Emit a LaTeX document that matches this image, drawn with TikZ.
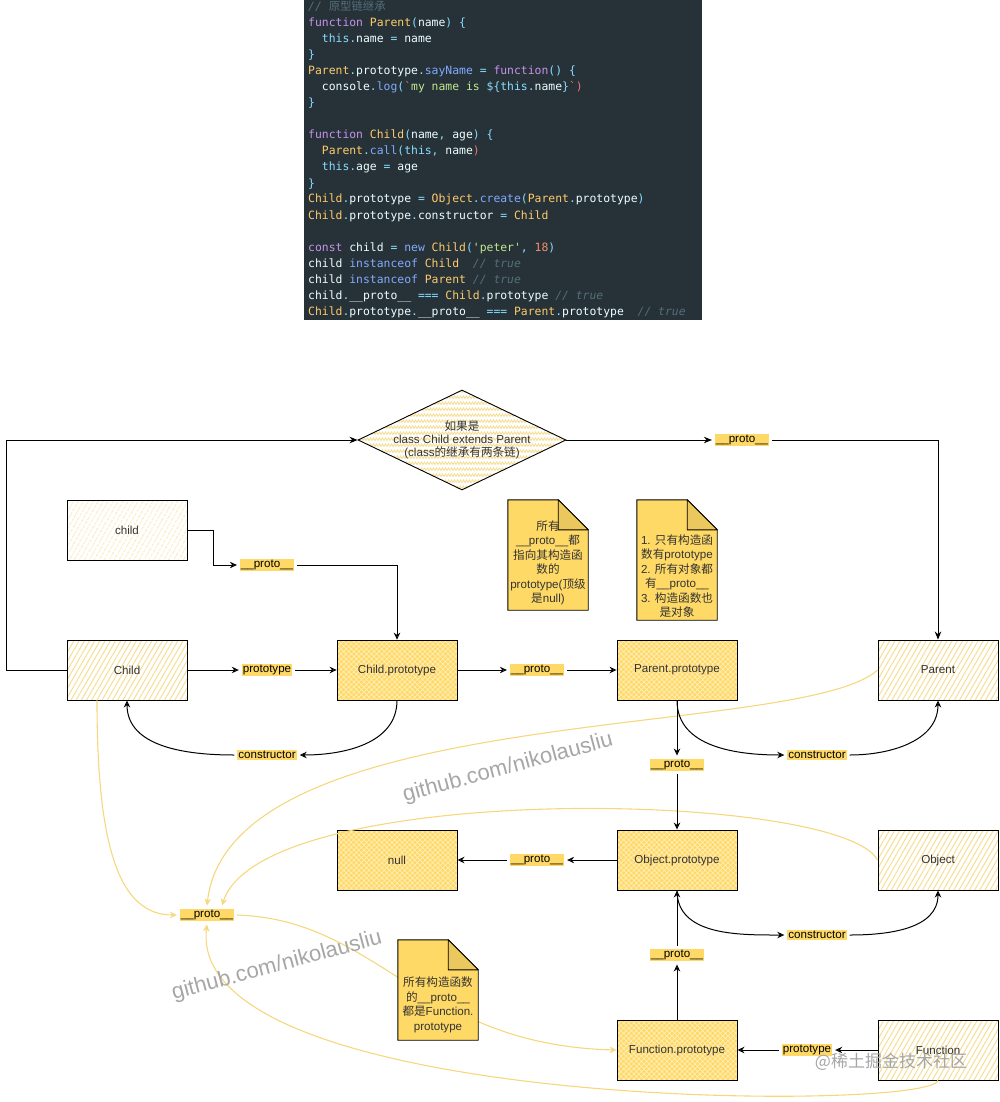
\documentclass[tikz,border=0pt]{standalone}
\usepackage{fontspec}
\setmainfont{Liberation Sans}
\setmonofont{DejaVu Sans Mono}
\newfontfamily\cjk{Noto Sans CJK SC}
\usetikzlibrary{arrows.meta,patterns.meta,shapes.geometric,calc}

\definecolor{codebg}{HTML}{263238}
\definecolor{ctext}{HTML}{EEFFFF}
\definecolor{ckw}{HTML}{C792EA}
\definecolor{cty}{HTML}{FFCB6B}
\definecolor{cfn}{HTML}{82AAFF}
\definecolor{cpu}{HTML}{89DDFF}
\definecolor{cst}{HTML}{C3E88D}
\definecolor{cnu}{HTML}{F78C6C}
\definecolor{crd}{HTML}{F07178}
\definecolor{ccm}{HTML}{546E7A}
\definecolor{labY}{HTML}{FFD966}
\definecolor{noteY}{HTML}{FFD966}
\definecolor{foldY}{HTML}{EBC85E}
\definecolor{hatchY}{HTML}{F6DC8C}
\definecolor{dotY}{HTML}{F3D370}
\definecolor{yline}{HTML}{F6D77E}
\definecolor{boxtext}{HTML}{333333}
\definecolor{wmgray}{HTML}{A6A6A6}

\newcommand\zh[1]{{\cjk #1}}
\newcommand\cKw[1]{\textcolor{ckw}{#1}}
\newcommand\cTy[1]{\textcolor{cty}{#1}}
\newcommand\cFn[1]{\textcolor{cfn}{#1}}
\newcommand\cPu[1]{\textcolor{cpu}{#1}}
\newcommand\cTh[1]{\textcolor{cpu}{#1}}
\newcommand\cSt[1]{\textcolor{cst}{#1}}
\newcommand\cNu[1]{\textcolor{cnu}{#1}}
\newcommand\cRd[1]{\textcolor{crd}{#1}}
\newcommand\cCm[1]{\textcolor{ccm}{\itshape #1}}
\newcommand\lblfont{\fontsize{11.6pt}{14.5pt}\selectfont}
\newcommand\codefont{\ttfamily\fontsize{11.4pt}{16pt}\selectfont}

\tikzdeclarepattern{
  name=zigzag,
  type=uncolored,
  bottom left={(-0.5pt,-0.5pt)},
  top right={(6.5pt,6.5pt)},
  tile size={(6pt,6pt)},
  code={\draw[line width=0.8pt] (0pt,1.5pt) -- (1.5pt,4pt) -- (3pt,1.5pt) -- (4.5pt,4pt) -- (6pt,1.5pt);}
}

\newcommand\notefold[1]{%
  \draw[notebody] (#1.south west) -- (#1.north west) -- ([xshift=-30pt]#1.north east) -- ([yshift=-30pt]#1.north east) -- (#1.south east) -- cycle;
  \draw[notefoldst] ([xshift=-30pt]#1.north east) -- ([xshift=-30pt,yshift=-30pt]#1.north east) -- ([yshift=-30pt]#1.north east) -- cycle;}

\tikzset{
  box/.style={draw=black, line width=0.9pt, minimum width=120pt, minimum height=60pt, inner sep=0pt, font=\lblfont, text=boxtext},
  hatchbox/.style={box, preaction={fill=white}, pattern={Lines[angle=60,distance=4.5pt,line width=0.9pt]}, pattern color=hatchY},
  xbox/.style={box, preaction={fill=labY}, pattern={Hatch[angle=45,distance=3.6pt,line width=0.7pt]}, pattern color=white!55!labY},
  dotbox/.style={box, preaction={fill=white}, pattern={Lines[angle=60,distance=4pt,line width=1pt]}, pattern color=white!40!dotY},
  diabox/.style={draw=black, line width=0.9pt, shape=diamond, minimum width=208pt, minimum height=100pt, inner sep=0pt, preaction={fill=white}, pattern=zigzag, pattern color=hatchY},
  lab/.style={fill=labY, inner xsep=1pt, inner ysep=1.5pt, outer sep=3pt, font=\lblfont, text=black},
  notebody/.style={draw=black, line width=0.9pt, fill=noteY},
  notefoldst/.style={draw=black, line width=0.9pt, fill=foldY, line join=round},
  noteshape/.style={minimum width=80pt, inner sep=0pt},
  notetext/.style={align=center, font=\lblfont, text=boxtext, inner sep=0pt},
  conn/.style={draw=black, line width=1pt, -{Stealth[open,length=7pt,width=6.5pt]}},
  connF/.style={draw=black, line width=1pt, -{Stealth[length=8pt,width=6.5pt]}},
  yconn/.style={draw=yline, line width=1.1pt, -{Stealth[open,length=7pt,width=6.5pt]}},
  codeline/.style={anchor=base west, inner sep=0pt, font=\codefont, text=ctext},
  wm/.style={font=\fontsize{22pt}{24pt}\selectfont, text=wmgray, inner sep=0pt},
}

\begin{document}
\begin{tikzpicture}[x=1pt,y=-1pt]
\useasboundingbox (0,0) rectangle (1000,1102);

% ---------- code block ----------
\node[fill=codebg, minimum width=398pt, minimum height=320pt, anchor=north west, inner sep=0pt] (code) at (304,0) {};
\node[codeline] (c0) at (308,11) {\cCm{// \zh{原型链继承}}};
\node[codeline] (c1) at (308,27) {\cKw{function} \cTy{Parent}\cPu{(}name\cPu{)} \cPu{\{}};
\node[codeline] (c2) at (308,43) {\phantom{xx}\cTh{this}\cPu{.}name \cPu{=} name};
\node[codeline] (c3) at (308,59) {\cPu{\}}};
\node[codeline] (c4) at (308,75) {\cTy{Parent}\cPu{.}prototype\cPu{.}\cFn{sayName} \cPu{=} \cKw{function}\cPu{()} \cPu{\{}};
\node[codeline] (c5) at (308,91) {\phantom{xx}console\cPu{.}\cFn{log}\cPu{(}\cRd{`}\cSt{my name is }\cPu{\$\{}\cTh{this}\cPu{.}name\cPu{\}}\cRd{`}\cRd{)}};
\node[codeline] (c6) at (308,107) {\cPu{\}}};
\node[codeline] (c8) at (308,139) {\cKw{function} \cTy{Child}\cPu{(}name\cPu{,} age\cPu{)} \cPu{\{}};
\node[codeline] (c9) at (308,155) {\phantom{xx}\cTy{Parent}\cPu{.}\cFn{call}\cPu{(}\cTh{this}\cPu{,} name\cRd{)}};
\node[codeline] (c10) at (308,171) {\phantom{xx}\cTh{this}\cPu{.}age \cPu{=} age};
\node[codeline] (c11) at (308,187) {\cPu{\}}};
\node[codeline] (c12) at (308,203) {\cTy{Child}\cPu{.}prototype \cPu{=} \cTy{Object}\cPu{.}\cFn{create}\cPu{(}\cTy{Parent}\cPu{.}prototype\cPu{)}};
\node[codeline] (c13) at (308,219) {\cTy{Child}\cPu{.}prototype\cPu{.}constructor \cPu{=} \cTy{Child}};
\node[codeline] (c15) at (308,251) {\cKw{const} child \cPu{=} \cFn{new} \cTy{Child}\cPu{(}\cSt{'peter'}\cPu{,} \cNu{18}\cPu{)}};
\node[codeline] (c16) at (308,267) {child \cFn{instanceof} \cTy{Child}\phantom{x} \cCm{// true}};
\node[codeline] (c17) at (308,283) {child \cFn{instanceof} \cTy{Parent} \cCm{// true}};
\node[codeline] (c18) at (308,299) {child\cPu{.}\_\_proto\_\_ \cPu{===} \cTy{Child}\cPu{.}prototype \cCm{// true}};
\node[codeline] (c19) at (308,315) {\cTy{Child}\cPu{.}prototype\cPu{.}\_\_proto\_\_ \cPu{===} \cTy{Parent}\cPu{.}prototype\phantom{x} \cCm{// true}};

% ---------- boxes ----------
\node[dotbox] (child) at (127,530) {child};
\node[hatchbox] (Child) at (127,670) {Child};
\node[xbox] (cproto) at (397,670) {Child.prototype};
\node[xbox] (pproto) at (677,670) {Parent.prototype};
\node[hatchbox] (Parent) at (938,670) {Parent};
\node[xbox] (null) at (397,860) {null};
\node[xbox] (oproto) at (677,860) {Object.prototype};
\node[hatchbox] (Object) at (938,860) {Object};
\node[xbox] (fproto) at (677,1050) {Function.prototype};
\node[hatchbox] (Function) at (938,1050) {Function};

% diamond
\node[diabox] (dia) at (462,440) {};
\node[align=center, font=\lblfont, text=boxtext, inner sep=0pt] (diatext) at (462,440)
  {\zh{如果是}\\[-1.5pt] class Child extends Parent\\[-1.5pt] (class\zh{的继承有两条链})};

% ---------- labels ----------
\node[lab] (l1) at (742,440) {\_\_proto\_\_};
\node[lab] (l2) at (267,565) {\_\_proto\_\_};
\node[lab] (l3) at (267,670) {prototype};
\node[lab] (l4) at (537,670) {\_\_proto\_\_};
\node[lab] (l5) at (267,755) {constructor};
\node[lab] (l7) at (677,765) {\_\_proto\_\_};
\node[lab] (l8) at (817,755) {constructor};
\node[lab] (l9) at (537,860) {\_\_proto\_\_};
\node[lab] (l10) at (817,935) {constructor};
\node[lab] (l11) at (207,915) {\_\_proto\_\_};
\node[lab] (l12) at (677,955) {\_\_proto\_\_};
\node[lab] (l13) at (807,1050) {prototype};

% ---------- yellow connectors ----------
\draw[yconn] ([xshift=-30pt]Child.south) .. controls (97,850) and (120,915) .. (l11.west);
\draw[yconn] (Parent.west) .. controls (800,740) and (230,700) .. (l11.north);
\draw[yconn] (Object.west) .. controls (840,790) and (262,780) .. ([xshift=15pt]l11.north);
\draw[yconn] (Function.south) .. controls (930,1112) and (185,1112) .. (l11.south);
\draw[yconn] (l11.east) .. controls (380,920) and (420,1045) .. (fproto.west);

% ---------- black connectors ----------
\draw[connF] (Child.west) -- ++(-60,0) |- (dia.west);
\draw[connF] (dia.east) -- (l1.west);
\draw[connF] (l1.east) -| (Parent.north);
\draw[conn] (child.east) -- ++(26,0) |- (l2.west);
\draw[conn] (l2.east) -| (cproto.north);
\draw[conn] (Child.east) -- (l3.west);
\draw[conn] (l3.east) -- (cproto.west);
\draw[conn] (cproto.east) -- (l4.west);
\draw[conn] (l4.east) -- (pproto.west);
\draw[conn] (cproto.south) to[out=-90,in=0] (l5.east);
\draw[conn] (l5.west) to[out=180,in=-90] (Child.south);
\draw[conn] (pproto.south) -- (l7.north);
\draw[conn] (l7.south) -- (oproto.north);
\draw[conn] (pproto.south) to[out=-90,in=180] (l8.west);
\draw[conn] (l8.east) to[out=0,in=-90] (Parent.south);
\draw[conn] (oproto.west) -- (l9.east);
\draw[conn] (l9.west) -- (null.east);
\draw[conn] (oproto.south) to[out=-90,in=180] (l10.west);
\draw[conn] (l10.east) to[out=0,in=-90] (Object.south);
\draw[conn] (fproto.north) -- (l12.south);
\draw[conn] (l12.north) -- (oproto.south);
\draw[conn] (Function.west) -- (l13.east);
\draw[conn] (l13.west) -- (fproto.east);

% ---------- notes ----------
\node[noteshape, minimum height=110pt] (n1) at (548,555) {};
\notefold{n1}
\node[notetext] (n1t) at (548,563) {\zh{所有}\\ \_\_proto\_\_\zh{都}\\ \zh{指向其构造函}\\ \zh{数的}\\ prototype(\zh{顶级}\\ \zh{是}null)};
\node[noteshape, minimum height=120pt] (n2) at (677,560) {};
\notefold{n2}
\node[notetext] (n2t) at (677,576) {1. \zh{只有构造函}\\ \zh{数有}prototype\\ 2. \zh{所有对象都}\\ \zh{有}\_\_proto\_\_\\ 3. \zh{构造函数也}\\ \zh{是对象}};
\node[noteshape, minimum height=100pt] (n3) at (438,990) {};
\notefold{n3}
\node[notetext] (n3t) at (438,1005) {\zh{所有构造函数}\\ \zh{的}\_\_proto\_\_\\ \zh{都是}Function.\\ prototype};

% ---------- watermarks ----------
\node[wm, rotate=15] (wm1) at (508,768) {github.com/nikolausliu};
\node[wm, rotate=15] (wm2) at (277,966) {github.com/nikolausliu};
\node[font=\cjk\fontsize{17pt}{19pt}\selectfont, text=wmgray, inner sep=0pt] (wm3) at (891,1062) {@稀土掘金技术社区};
\end{tikzpicture}
\end{document}
